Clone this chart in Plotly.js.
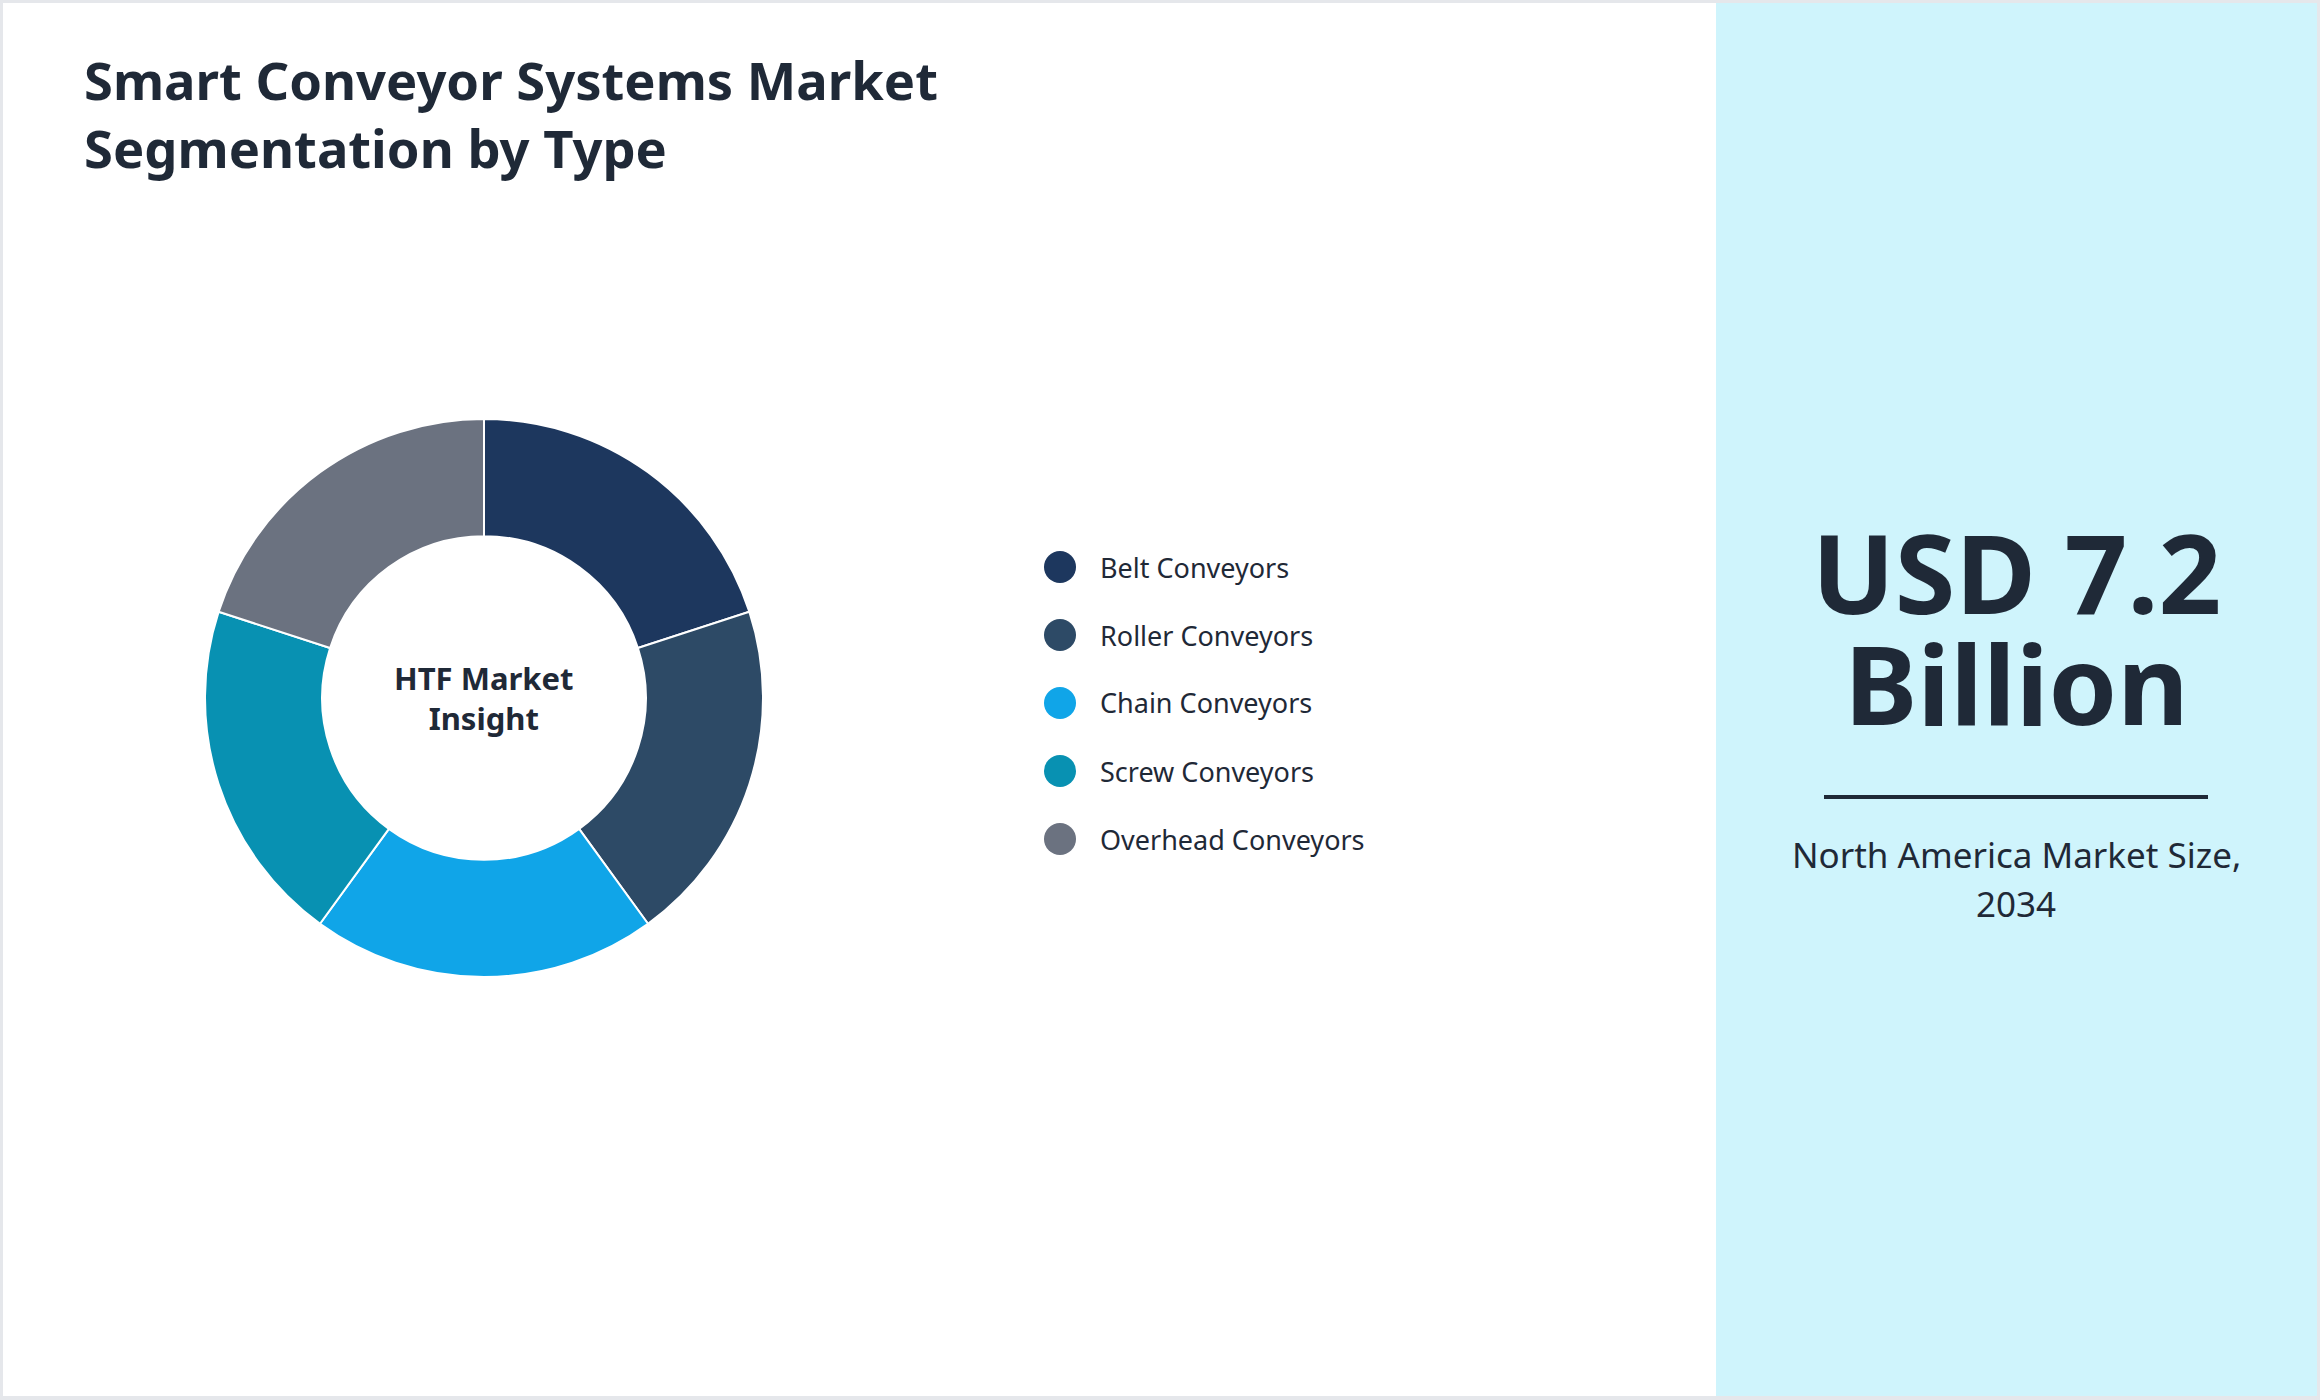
<!DOCTYPE html>
<html>
<head>
<meta charset="utf-8">
<script src="https://cdn.plot.ly/plotly-3.0.1.min.js"></script>
<style>
  html, body { margin: 0; padding: 0; background: #e5e7eb; width: 2320px; height: 1400px; overflow: hidden; }
  #chart { position: absolute; left: 3px; top: 3px; width: 2314px; height: 1393px; background: #ffffff; }
  #headline { position: absolute; left: 1716px; width: 601px; top: 516px; text-align: center; white-space: pre-line;
    font-family: 'Noto Sans', 'Open Sans', sans-serif; font-weight: 700; font-size: 110px; line-height: 111px;
    color: #1f2937; z-index: 5; margin: 0; }
</style>
</head>
<body>
<div id="chart"></div>
<div id="headline"></div>
<script>
// ---- data ----
const titleLines = ['Smart Conveyor Systems Market', 'Segmentation by Type'];
const categories = ['Belt Conveyors', 'Roller Conveyors', 'Chain Conveyors', 'Screw Conveyors', 'Overhead Conveyors'];
const shares = [20, 20, 20, 20, 20];
const centerLines = ['HTF Market', 'Insight'];
const headlineLines = ['USD 7.2', 'Billion'];
const captionLines = ['North America Market Size,', '2034'];

// ---- styles ----
const sliceColors = ['#1d375e', '#2d4a66', '#10a5e8', '#0891b2', '#6b7280'];
const ink = '#1f2937';
const FONT = 'Noto Sans, Open Sans, sans-serif';

const W = 2314, H = 1393, OX = 3, OY = 3;
const X = x => (x - OX) / W;
const Y = y => 1 - (y - OY) / H;

// donut geometry (page pixels)
const cx = 484, cy = 698, R = 279;

const pie = {
  type: 'pie',
  labels: categories,
  values: shares,
  sort: false,
  direction: 'clockwise',
  rotation: 0,
  hole: 0.58,
  textinfo: 'none',
  hoverinfo: 'label+percent',
  showlegend: false,
  marker: { colors: sliceColors, line: { color: '#ffffff', width: 2 } },
  domain: { x: [X(cx - R), X(cx + R)], y: [Y(cy + R), Y(cy - R)] }
};

const annotations = [];
const shapes = [];

// right panel
shapes.push({ type: 'rect', xref: 'paper', yref: 'paper', x0: X(1716), x1: 1, y0: 0, y1: 1,
  fillcolor: '#cff4fc', line: { width: 0 }, layer: 'below' });

// title (one text, two lines)
annotations.push({ xref: 'paper', yref: 'paper', x: X(82), y: Y(113), xanchor: 'left', yanchor: 'middle', align: 'left',
  text: titleLines.join('<br>'), showarrow: false, font: { family: FONT, size: 52.5, color: ink, weight: 700 } });

// donut centre label
annotations.push({ xref: 'paper', yref: 'paper', x: X(cx), y: Y(cy), xanchor: 'center', yanchor: 'middle',
  text: centerLines.join('<br>'), showarrow: false, font: { family: FONT, size: 31, color: ink, weight: 700 } });

// legend built from categories
categories.forEach((c, i) => {
  const ly = 567 + i * 68;
  shapes.push({ type: 'circle', xref: 'paper', yref: 'paper', xsizemode: 'pixel', ysizemode: 'pixel',
    xanchor: X(1060), yanchor: Y(ly), x0: -16, x1: 16, y0: -16, y1: 16,
    fillcolor: sliceColors[i], line: { width: 0 } });
  annotations.push({ xref: 'paper', yref: 'paper', x: X(1098), y: Y(ly), xanchor: 'left', yanchor: 'middle',
    text: c, showarrow: false, font: { family: FONT, size: 27, color: ink } });
});

// headline (one HTML text block in the side panel)
document.getElementById('headline').textContent = headlineLines.join('\n');

const panelCx = 2016;
shapes.push({ type: 'line', xref: 'paper', yref: 'paper', x0: X(1824), x1: X(2208), y0: Y(797), y1: Y(797),
  line: { color: ink, width: 4 } });
captionLines.forEach((t, i) => {
  annotations.push({ xref: 'paper', yref: 'paper', x: X(panelCx), y: Y([854, 903][i]), xanchor: 'center', yanchor: 'middle',
    text: t, showarrow: false, font: { family: FONT, size: 35, color: ink } });
});

const layout = {
  width: W, height: H,
  margin: { l: 0, r: 0, t: 0, b: 0 },
  paper_bgcolor: '#ffffff',
  showlegend: false,
  font: { family: FONT, color: ink },
  shapes: shapes,
  annotations: annotations
};

Plotly.newPlot('chart', [pie], layout, { displayModeBar: false, staticPlot: false });
</script>
</body>
</html>
